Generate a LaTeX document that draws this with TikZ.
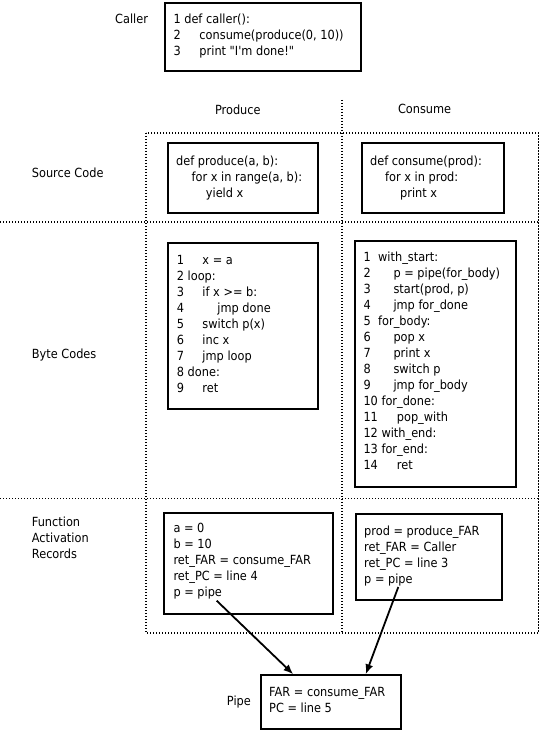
\documentclass[tikz,border=0pt]{standalone}
\usepackage{fontspec}
\newfontfamily\dvfont{DejaVu Sans}[FakeStretch=0.9]
\usetikzlibrary{arrows.meta}
\newcommand\fl{\rule{0pt}{12pt}}
\newcommand\nm[2]{\makebox[#1pt][l]{#2}}
\begin{document}
\begin{tikzpicture}[x=1pt,y=-1pt,
  font=\dvfont\fontsize{12.6}{16}\selectfont,
  txt/.style={anchor=north west, inner sep=0pt, align=left},
  lbl/.style={anchor=base west, inner sep=0pt},
  clbl/.style={anchor=base, inner sep=0pt},
  box/.style={draw, line width=2pt, inner sep=0pt, anchor=north west},
  dotline/.style={line width=1.4pt, dash pattern=on 1.4pt off 1.6pt},
  arr/.style={line width=1.8pt, -{Latex[length=10pt,width=8pt]}}]
\useasboundingbox (0,0) rectangle (540,730);

% dotted grid
\draw[dotline] (146,133) rectangle (538.5,633);
\draw[dotline] (0,222) -- (538.5,222);
\draw[dotline] (0,498.3) -- (538.5,498.3);
\draw[dotline] (342,100) -- (342,633);

% labels
\node[lbl] (lcaller) at (115,24) {Caller};
\node[clbl] (lproduce) at (237.8,114.5) {Produce};
\node[clbl] (lconsume) at (424.6,114) {Consume};
\node[lbl] (lsource) at (31.7,177.3) {Source Code};
\node[lbl] (lbyte) at (31.7,358.3) {Byte Codes};
\node[txt] (lfar) at (31.7,514) {\fl Function\\Activation\\Records};
\node[lbl] (lpipe) at (226.7,705) {Pipe};

% boxes
\node[box, minimum width=195.5pt, minimum height=68pt] (caller) at (164,2) {};
\node[box, minimum width=150pt, minimum height=69.8pt] (ps) at (166.5,142.5) {};
\node[box, minimum width=142pt, minimum height=69.8pt] (cs) at (361.3,142.5) {};
\node[box, minimum width=149.7pt, minimum height=165.7pt] (pb) at (167,242.3) {};
\node[box, minimum width=161.5pt, minimum height=245.2pt] (cb) at (353.5,240.3) {};
\node[box, minimum width=168.7pt, minimum height=101.3pt] (pf) at (163,512) {};
\node[box, minimum width=146.5pt, minimum height=86.3pt] (cf) at (354.5,512.7) {};
\node[box, minimum width=140.5pt, minimum height=53.7pt] (pipe) at (259.5,674.3) {};

% texts
\node[txt] (callertxt) at (173.3,11.5) {\fl 1 def caller():\\
\nm{26}{2}consume(produce(0, 10))\\
\nm{26}{3}print "I'm done!"};

\node[txt] (pstxt) at (176,153.7) {\fl def produce(a, b):\\
\hspace*{15.5pt}for x in range(a, b):\\
\hspace*{29.7pt}yield x};

\node[txt] (cstxt) at (370,153.2) {\fl def consume(prod):\\
\hspace*{15pt}for x in prod:\\
\hspace*{30pt}print x};

\node[txt] (pbtxt) at (176.7,252) {\fl \nm{25.6}{1}x = a\\
2 loop:\\
\nm{25.6}{3}if x >= b:\\
\nm{40.6}{4}jmp done\\
\nm{25.6}{5}switch p(x)\\
\nm{25.6}{6}inc x\\
\nm{25.6}{7}jmp loop\\
8 done:\\
\nm{25.6}{9}ret};

\node[txt] (cbtxt) at (363.3,249.7) {\fl \nm{14.7}{1}with\_start:\\
\nm{30}{2}p = pipe(for\_body)\\
\nm{30}{3}start(prod, p)\\
\nm{30}{4}jmp for\_done\\
\nm{14.7}{5}for\_body:\\
\nm{30}{6}pop x\\
\nm{30}{7}print x\\
\nm{30}{8}switch p\\
\nm{30}{9}jmp for\_body\\
10 for\_done:\\
\nm{33.4}{11}pop\_with\\
12 with\_end:\\
13 for\_end:\\
\nm{33.4}{14}ret};

\node[txt] (pftxt) at (173.3,520.3) {\fl a = 0\\
b = 10\\
ret\_FAR = consume\_FAR\\
ret\_PC = line 4\\
p = pipe};

\node[txt] (cftxt) at (364,523) {\fl prod = produce\_FAR\\
ret\_FAR = Caller\\
ret\_PC = line 3\\
p = pipe};

\node[txt] (pipetxt) at (269,684) {\fl FAR = consume\_FAR\\
PC = line 5};

% arrows
\coordinate (a1) at (216.7,600.7);
\coordinate (a2) at (398.3,587);
\draw[arr] (a1) -- ([xshift=33.8pt]pipe.north west);
\draw[arr] (a2) -- ([xshift=106.2pt]pipe.north west);
\end{tikzpicture}
\end{document}
